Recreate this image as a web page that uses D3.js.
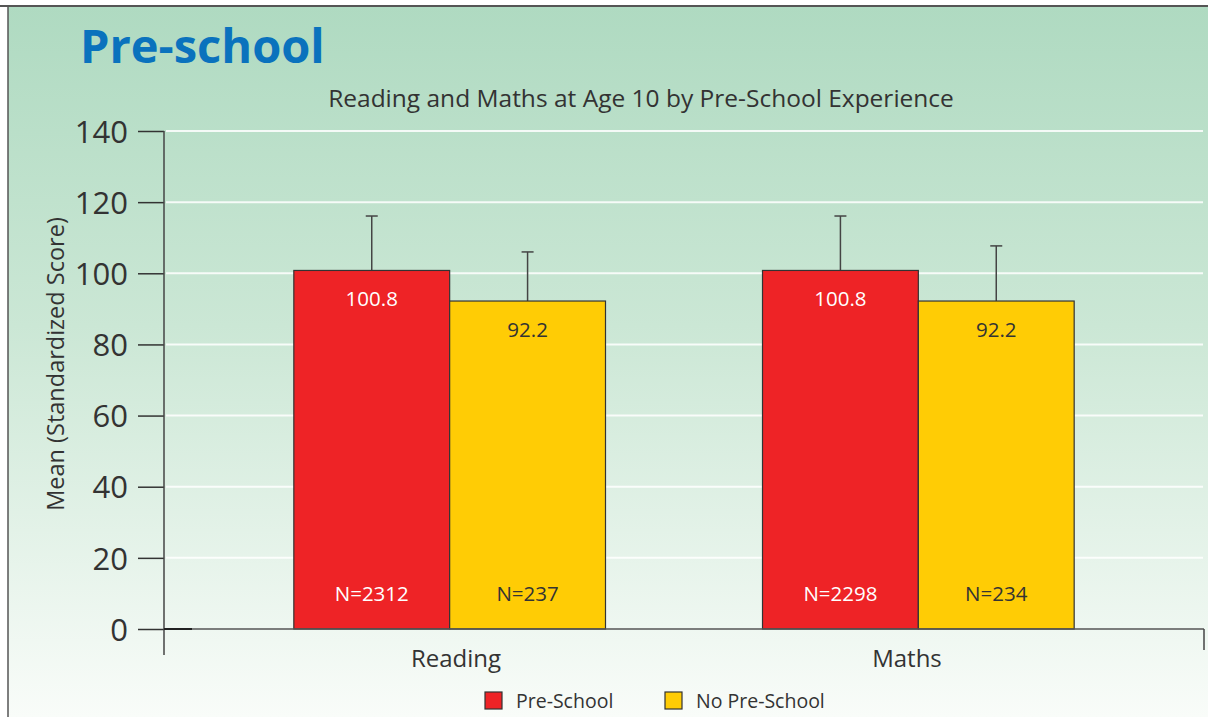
<!DOCTYPE html>
<html><head><meta charset="utf-8">
<script src="https://cdn.jsdelivr.net/npm/d3@7"></script>
<style>html,body{margin:0;padding:0;background:#fff;}svg{display:block;}text{font-family:"Open Sans",sans-serif;}</style>
</head><body>
<svg id="c" width="1208" height="717"></svg>
<script>
const categories = ["Reading", "Maths"];
const series = ["Pre-School", "No Pre-School"];
const means = { "Pre-School": [100.8, 100.8], "No Pre-School": [92.2, 92.2] };
const errTops = { "Pre-School": [116.1, 116.1], "No Pre-School": [106.0, 107.7] };
const nLabels = { "Pre-School": ["N=2312", "N=2298"], "No Pre-School": ["N=237", "N=234"] };
const yTicks = [0, 20, 40, 60, 80, 100, 120, 140];
const colors = { "Pre-School": "#ee2326", "No Pre-School": "#ffcc05" };
const labelColors = { "Pre-School": "#ffffff", "No Pre-School": "#333333" };

const svg = d3.select("#c");
const defs = svg.append("defs");
const g = defs.append("linearGradient").attr("id","bg").attr("x1",0).attr("y1",0).attr("x2",0).attr("y2",1);
g.append("stop").attr("offset","0%").attr("stop-color","#afdac1");
g.append("stop").attr("offset","45%").attr("stop-color","#cbe7d5");
g.append("stop").attr("offset","100%").attr("stop-color","#f9fcf9");
svg.append("rect").attr("x",8).attr("y",6).attr("width",1200).attr("height",711).attr("fill","url(#bg)");
svg.append("line").attr("x1",0).attr("x2",1208).attr("y1",6).attr("y2",6).attr("stroke","#555").attr("stroke-width",2);
svg.append("line").attr("x1",8).attr("x2",8).attr("y1",6).attr("y2",717).attr("stroke","#555").attr("stroke-width",1.5);

const x0 = 164, x1 = 1204;
const y = d3.scaleLinear().domain([0,140]).range([629,131]);
const xc = d3.scaleBand().domain(categories).range([x0,x1]).paddingInner(0.335).paddingOuter(0.277);
const xs = d3.scaleBand().domain(series).range([0, xc.bandwidth()]);
const xl = d3.scalePoint().domain(categories).range([456, 907]);

// title
svg.append("text").attr("x",80).attr("y",63).attr("fill","#0a72bd").attr("font-size",47).attr("font-weight","bold").text("Pre-school");
svg.append("text").attr("x",641).attr("y",107).attr("text-anchor","middle").attr("fill","#333").attr("font-size",24.5).text("Reading and Maths at Age 10 by Pre-School Experience");

// gridlines
svg.append("g").selectAll("line").data(yTicks.filter(d=>d>0)).join("line")
  .attr("x1",x0+2).attr("x2",1203).attr("y1",d=>y(d)).attr("y2",d=>y(d))
  .attr("stroke","#ffffff").attr("stroke-opacity",0.85).attr("stroke-width",2);

// y axis
const yAxis = d3.axisLeft(y).tickValues(yTicks).tickSize(26).tickPadding(10).tickFormat(d3.format("d"));
const ya = svg.append("g").attr("transform",`translate(${x0},0)`).call(yAxis);
ya.select(".domain").remove();
ya.selectAll(".tick line").attr("stroke","#333").attr("stroke-width",1.5);
ya.selectAll(".tick text").attr("font-size",31).attr("fill","#333").attr("font-family","'Open Sans',sans-serif").attr("dy","0.36em");
svg.append("line").attr("x1",x0).attr("x2",x0).attr("y1",y(140)).attr("y2",655).attr("stroke","#444").attr("stroke-width",1.5);

svg.append("text").attr("transform","translate(64,364) rotate(-90)").attr("text-anchor","middle")
  .attr("fill","#333").attr("font-size",23.5).text("Mean (Standardized Score)");

// bars
const data = [];
categories.forEach((c,i)=>series.forEach(s=>data.push({c,s,v:means[s][i],e:errTops[s][i],n:nLabels[s][i]})));
const bx = d=>xc(d.c)+xs(d.s);

// error bars
const eg = svg.append("g").attr("stroke","#444").attr("stroke-width",1.5);
eg.selectAll(".ev").data(data).join("line")
  .attr("x1",d=>bx(d)+xs.bandwidth()/2).attr("x2",d=>bx(d)+xs.bandwidth()/2)
  .attr("y1",d=>y(d.v)).attr("y2",d=>y(d.e));
eg.selectAll(".ec").data(data).join("line")
  .attr("x1",d=>bx(d)+xs.bandwidth()/2-6).attr("x2",d=>bx(d)+xs.bandwidth()/2+6)
  .attr("y1",d=>y(d.e)).attr("y2",d=>y(d.e));

svg.append("g").selectAll("rect").data(data).join("rect")
  .attr("x",bx).attr("width",xs.bandwidth())
  .attr("y",d=>y(d.v)).attr("height",d=>y(0)-y(d.v))
  .attr("fill",d=>colors[d.s]).attr("stroke","#333").attr("stroke-width",1.2);

svg.append("g").selectAll("text").data(data).join("text")
  .attr("x",d=>bx(d)+xs.bandwidth()/2).attr("y",d=>y(d.v)+36)
  .attr("text-anchor","middle").attr("font-size",20.5).attr("fill",d=>labelColors[d.s]).text(d=>d.v.toFixed(1));
svg.append("g").selectAll("text").data(data).join("text")
  .attr("x",d=>bx(d)+xs.bandwidth()/2).attr("y",y(0)-28)
  .attr("text-anchor","middle").attr("font-size",20.5).attr("fill",d=>labelColors[d.s]).text(d=>d.n);

// x axis
svg.append("line").attr("x1",x0).attr("x2",x1).attr("y1",y(0)).attr("y2",y(0)).attr("stroke","#555").attr("stroke-width",1.5);
svg.append("line").attr("x1",x0).attr("x2",192).attr("y1",y(0)).attr("y2",y(0)).attr("stroke","#222").attr("stroke-width",2);
svg.append("line").attr("x1",x1).attr("x2",x1).attr("y1",y(0)).attr("y2",650).attr("stroke","#444").attr("stroke-width",1.5);
svg.append("g").selectAll("text").data(categories).join("text")
  .attr("x",d=>xl(d)).attr("y",667).attr("text-anchor","middle")
  .attr("font-size",24).attr("fill","#333").text(d=>d);

// legend
const legX = [485, 665];
const lg = svg.append("g").selectAll("g").data(series).join("g").attr("transform",(d,i)=>`translate(${legX[i]},692)`);
lg.append("rect").attr("width",17).attr("height",17).attr("fill",d=>colors[d]).attr("stroke","#333").attr("stroke-width",1.2);
lg.append("text").attr("x",31).attr("y",16).attr("font-size",19.5).attr("fill","#333").text(d=>d);
</script>
</body></html>
